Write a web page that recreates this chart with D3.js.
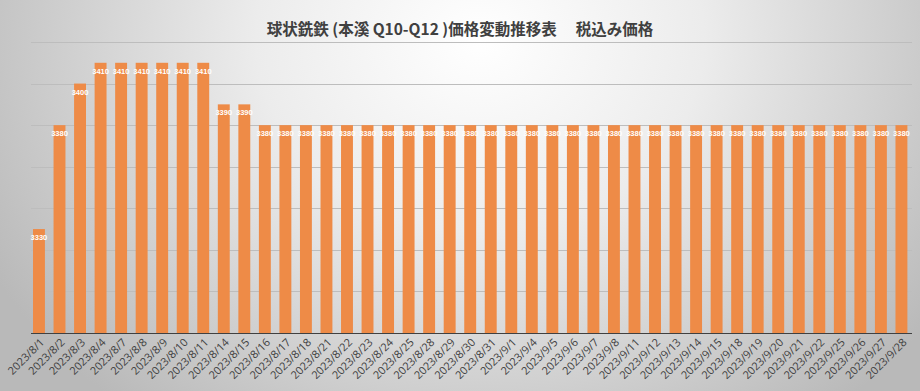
<!DOCTYPE html>
<html><head><meta charset="utf-8">
<script src="https://cdn.jsdelivr.net/npm/d3@7"></script>
<style>body{margin:0;}svg{display:block;}</style>
</head><body>
<script>
const dates = ["2023/8/1","2023/8/2","2023/8/3","2023/8/4","2023/8/7","2023/8/8","2023/8/9","2023/8/10","2023/8/11","2023/8/14","2023/8/15","2023/8/16","2023/8/17","2023/8/18","2023/8/21","2023/8/22","2023/8/23","2023/8/24","2023/8/25","2023/8/28","2023/8/29","2023/8/30","2023/8/31","2023/9/1","2023/9/4","2023/9/5","2023/9/6","2023/9/7","2023/9/8","2023/9/11","2023/9/12","2023/9/13","2023/9/14","2023/9/15","2023/9/18","2023/9/19","2023/9/20","2023/9/21","2023/9/22","2023/9/25","2023/9/26","2023/9/27","2023/9/28"];
const prices = [3330,3380,3400,3410,3410,3410,3410,3410,3410,3390,3390,3380,3380,3380,3380,3380,3380,3380,3380,3380,3380,3380,3380,3380,3380,3380,3380,3380,3380,3380,3380,3380,3380,3380,3380,3380,3380,3380,3380,3380,3380,3380,3380];
const yTicks = [3280,3300,3320,3340,3360,3380,3400,3420];
const title = "球状銑鉄 (本溪 Q10-Q12 )価格変動推移表　 税込み価格";

const W = 920, H = 391;
const svg = d3.select("body").append("svg").attr("width", W).attr("height", H);
const defs = svg.append("defs");
const grad = defs.append("radialGradient").attr("id","bg")
  .attr("gradientUnits","userSpaceOnUse").attr("cx",480).attr("cy",40).attr("r",560)
  .attr("gradientTransform","translate(480,40) scale(1,0.85) translate(-480,-40)");
grad.append("stop").attr("offset","0%").attr("stop-color","#ffffff");
grad.append("stop").attr("offset","40%").attr("stop-color","#ececec");
grad.append("stop").attr("offset","100%").attr("stop-color","#b9b9b9");
svg.append("rect").attr("width",W).attr("height",H).attr("fill","url(#bg)");

const x = d3.scaleBand().domain(dates).range([28.7, 911.7]).paddingInner(0.42).paddingOuter(0.21);
const y = d3.scaleLinear().domain([3280, 3420]).range([333, 42]);

// gridlines
svg.append("g").selectAll("line").data(yTicks.slice(1)).join("line")
  .attr("x1", 31).attr("x2", 912)
  .attr("y1", d => Math.round(y(d)) + 0.5).attr("y2", d => Math.round(y(d)) + 0.5)
  .attr("stroke", "#bdbdbd").attr("stroke-width", 1);

// bars
svg.append("g").selectAll("rect").data(dates).join("rect")
  .attr("x", d => x(d)).attr("width", x.bandwidth())
  .attr("y", (d,i) => y(prices[i])).attr("height", (d,i) => y(3280) - y(prices[i]))
  .attr("fill", "#ee8b47");

// x axis
const xAxis = svg.append("g").attr("transform", "translate(0,333)")
  .call(d3.axisBottom(x).tickSize(0).tickSizeOuter(0));
xAxis.select(".domain").attr("stroke", "#404040").attr("stroke-width", 1)
  .attr("d", "M31,0.5H912");
xAxis.selectAll("text")
  .attr("font-family", "'Open Sans', sans-serif")
  .attr("font-size", 11).attr("fill", "#404040")
  .attr("text-anchor", "end")
  .attr("dy", null).attr("y", 0)
  .attr("transform", "translate(6,10) rotate(-45)");

// data labels
svg.append("g").selectAll("text").data(dates).join("text")
  .attr("x", d => x(d) + x.bandwidth()/2)
  .attr("y", (d,i) => y(prices[i]) + 11)
  .attr("text-anchor", "middle")
  .attr("font-family", "'Liberation Sans', sans-serif")
  .attr("font-size", 7.5).attr("font-weight", "bold").attr("fill", "#ffffff")
  .text((d,i) => prices[i]);

// title
svg.append("text").attr("x", 460).attr("y", 35).attr("text-anchor", "middle")
  .attr("font-family", "'Noto Sans CJK JP', sans-serif")
  .attr("font-size", 15.5).attr("font-weight", "bold").attr("fill", "#404040")
  .text(title);
</script>
</body></html>
